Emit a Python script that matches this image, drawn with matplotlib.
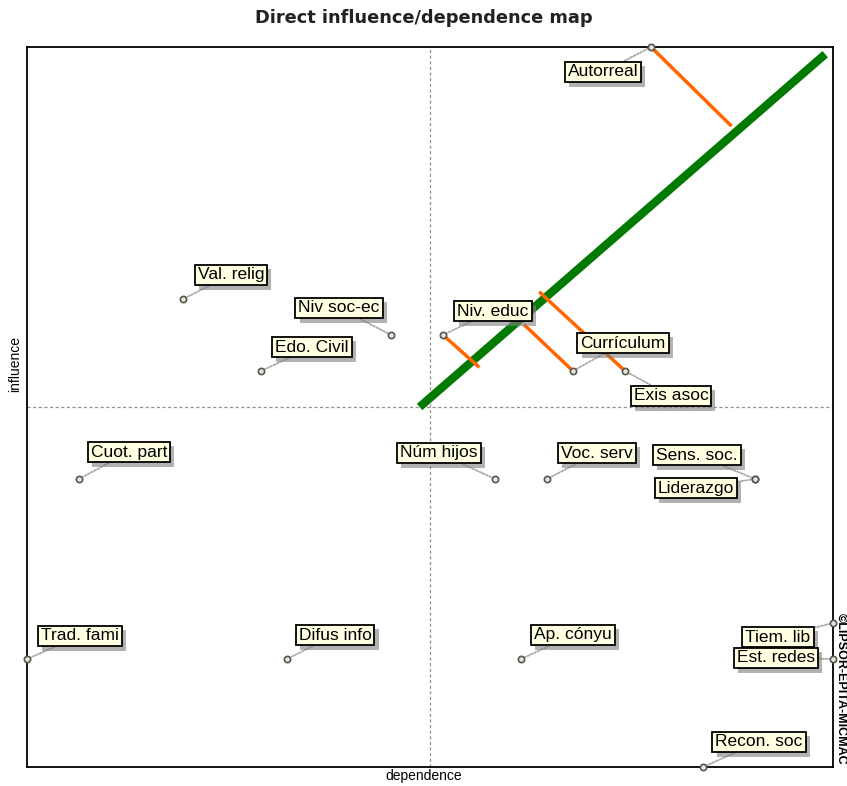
import matplotlib
matplotlib.use("Agg")
import matplotlib.pyplot as plt
import matplotlib.patheffects as pe

# variables: name, dependence, influence
names = ["Autorreal", "Val. relig", "Niv soc-ec", "Niv. educ", "Edo. Civil",
         "Currículum", "Exis asoc", "Cuot. part", "Núm hijos", "Voc. serv",
         "Sens. soc.", "Liderazgo", "Trad. fami", "Difus info", "Ap. cónyu",
         "Tiem. lib", "Est. redes", "Recon. soc"]
dependence = [24, 6, 14, 16, 9, 21, 23, 2, 18, 20, 28, 28, 0, 10, 19, 31, 31, 26]
influence = [20, 13, 12, 12, 11, 11, 11, 8, 8, 8, 8, 8, 3, 3, 3, 4, 3, 0]

# label offsets from the point (pixels)
label_dx = [-48, 48, -52, 50, 51, 50, 46, 50, -56, 50, -58, -59, 53, 48, 52, -55, -57, 56]
label_dy = [-25, 24, 27, 24, 24, 28, -25, 27, 26, 26, 24, -9, 23, 24, 24, -14, 1, 25]

# diagonal and projections
diag_x = [15.1, 30.7]
diag_y = [10.0, 19.8]
proj_from = ["Autorreal", "Niv. educ", "Currículum", "Exis asoc"]
proj_to_x = [27.1, 17.4, 19.1, 19.7]
proj_to_y = [17.8, 11.1, 12.3, 13.2]

fig = plt.figure(figsize=(8.47, 7.86), dpi=100)
ax = fig.add_axes([27 / 847, 19 / 786, 806 / 847, 720 / 786])
ax.set_xlim(0, 31)
ax.set_ylim(0, 20)
ax.set_xticks([])
ax.set_yticks([])
for s in ax.spines.values():
    s.set_linewidth(1.3)

ax.axvline(15.5, color="#909090", lw=0.9, ls=(0, (2.5, 2)), zorder=1)
ax.axhline(10, color="#909090", lw=0.9, ls=(0, (2.5, 2)), zorder=1)

ax.plot(diag_x, diag_y, color="#007a00", lw=6, solid_capstyle="butt", zorder=3)
for n, tx, ty in zip(proj_from, proj_to_x, proj_to_y):
    i = names.index(n)
    ax.plot([dependence[i], tx], [influence[i], ty], color="#ff6600", lw=2.5,
            solid_capstyle="butt", zorder=3)

ax.plot(dependence, influence, "o", ms=4.5, mfc="#e8e8d0", mec="#555555", mew=1.2,
        clip_on=False, zorder=6)

for n, x, y, dx, dy in zip(names, dependence, influence, label_dx, label_dy):
    t = ax.annotate(n, (x, y), xytext=(dx, dy), textcoords="offset pixels",
                    ha="center", va="center", fontsize=12.5, family="Liberation Sans",
                    color="black", zorder=5, annotation_clip=False,
                    bbox=dict(boxstyle="square,pad=0.17", fc="#ffffe1", ec="black", lw=1.3),
                    arrowprops=dict(arrowstyle="-", color="#a8a8a8", lw=1.3,
                                    ls=(0, (1, 1)), shrinkA=0, shrinkB=0))
    t.get_bbox_patch().set_path_effects([
        pe.SimplePatchShadow(offset=(3, -3), shadow_rgbFace="#808080", alpha=0.6),
        pe.Normal()])

fig.text(0.5, 1 - 18 / 786, "Direct influence/dependence map", ha="center", va="center",
         fontsize=12.8, fontweight="bold", color="#222222")
fig.text(0.5, 1 - 776 / 786, "dependence", ha="center", va="center", fontsize=10,
         family="Liberation Sans")
fig.text(15 / 847, 1 - 364 / 786, "influence", ha="center", va="center", fontsize=10,
         family="Liberation Sans", rotation=90)
fig.text(841 / 847, 1 - 689 / 786, "©LIPSOR-EPITA-MICMAC", ha="center", va="center",
         fontsize=9, fontweight="bold", rotation=-90, family="Liberation Sans")

fig.savefig("out.png", dpi=100)
